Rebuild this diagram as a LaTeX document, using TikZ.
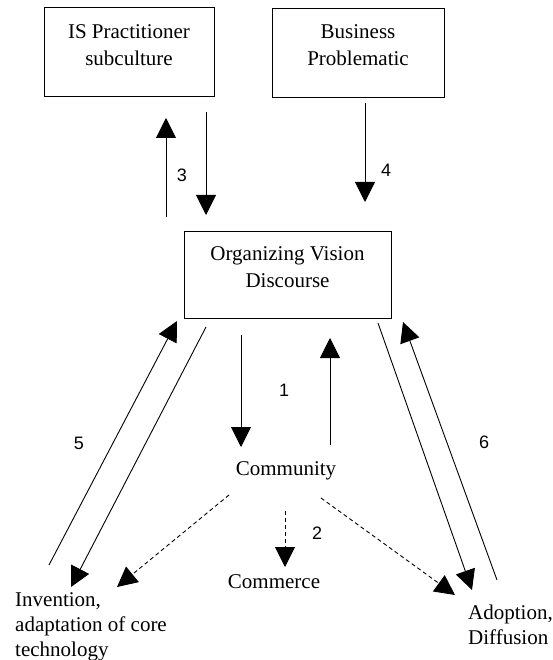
\documentclass[tikz,border=0pt]{standalone}
\usepackage{fontspec}
\setmainfont{Liberation Serif}
\newfontfamily\numfont{Liberation Sans}
\usetikzlibrary{arrows.meta}
\begin{document}
\begin{tikzpicture}[x=1pt,y=-1pt,
  boxnode/.style={draw, line width=1pt, inner sep=0pt},
  lbl/.style={font=\fontsize{21}{27}\selectfont, align=center, inner sep=0pt},
  side/.style={font=\fontsize{21}{25}\selectfont, align=left, inner sep=0pt, anchor=west},
  num/.style={font=\numfont\fontsize{18}{20}\selectfont, inner sep=0pt},
  conn/.style={line width=0.9pt, -{Triangle[width=20pt,length=20pt]}},
  dconn/.style={conn, dash pattern=on 4pt off 3pt}]
\useasboundingbox (0,0) rectangle (553,660);
% boxes
\node[boxnode, minimum width=170pt, minimum height=89pt] (is) at (129,52.5) {};
\node[boxnode, minimum width=172pt, minimum height=89pt] (bp) at (358,53.5) {};
\node[boxnode, minimum width=207pt, minimum height=87pt] (ov) at (287.5,274.5) {};
\node[lbl] (istext) at (129,45) {IS Practitioner\\subculture};
\node[lbl] (bptext) at (358,45.5) {Business\\Problematic};
\node[lbl] (ovtext) at (287.5,267.5) {Organizing Vision\\Discourse};
% plain labels
\node[lbl] (comm) at (286,471) {Community};
\node[lbl] (comc) at (274,582) {Commerce};
\node[side] (inv) at (15,627) {Invention,\\adaptation of core\\technology};
\node[side] (adop) at (468,624.5) {Adoption,\\Diffusion};
% numbers
\node[num] (n3) at (182,175) {3};
\node[num] (n4) at (386,170) {4};
\node[num] (n1) at (284,390) {1};
\node[num] (n5) at (79,443) {5};
\node[num] (n6) at (484,442) {6};
\node[num] (n2) at (317,533) {2};
% connector end points
\coordinate (a3s) at (166,217); \coordinate (a3e) at (166,118);
\coordinate (b3s) at (206,112); \coordinate (b3e) at (206,215);
\coordinate (a4s) at (365,103); \coordinate (a4e) at (365,202);
\coordinate (a5s) at (49,565);  \coordinate (a5e) at (177,321);
\coordinate (b5s) at (206,327); \coordinate (b5e) at (71,587);
\coordinate (a1s) at (241,335); \coordinate (a1e) at (241,447);
\coordinate (b1s) at (330,445); \coordinate (b1e) at (330,338);
\coordinate (a6s) at (378,323); \coordinate (a6e) at (472,590);
\coordinate (b6s) at (497,580); \coordinate (b6e) at (403,322);
\coordinate (dls) at (229,495); \coordinate (dle) at (117,587);
\coordinate (dcs) at (285,511); \coordinate (dce) at (285,567);
\coordinate (drs) at (321,498); \coordinate (dre) at (455,595);
% connectors
\draw[conn] (a3s) -- (a3e);
\draw[conn] (b3s) -- (b3e);
\draw[conn] (a4s) -- (a4e);
\draw[conn] (a5s) -- (a5e);
\draw[conn] (b5s) -- (b5e);
\draw[conn] (a1s) -- (a1e);
\draw[conn] (b1s) -- (b1e);
\draw[conn] (a6s) -- (a6e);
\draw[conn] (b6s) -- (b6e);
\draw[dconn] (dls) -- (dle);
\draw[dconn] (dcs) -- (dce);
\draw[dconn] (drs) -- (dre);
\end{tikzpicture}
\end{document}
